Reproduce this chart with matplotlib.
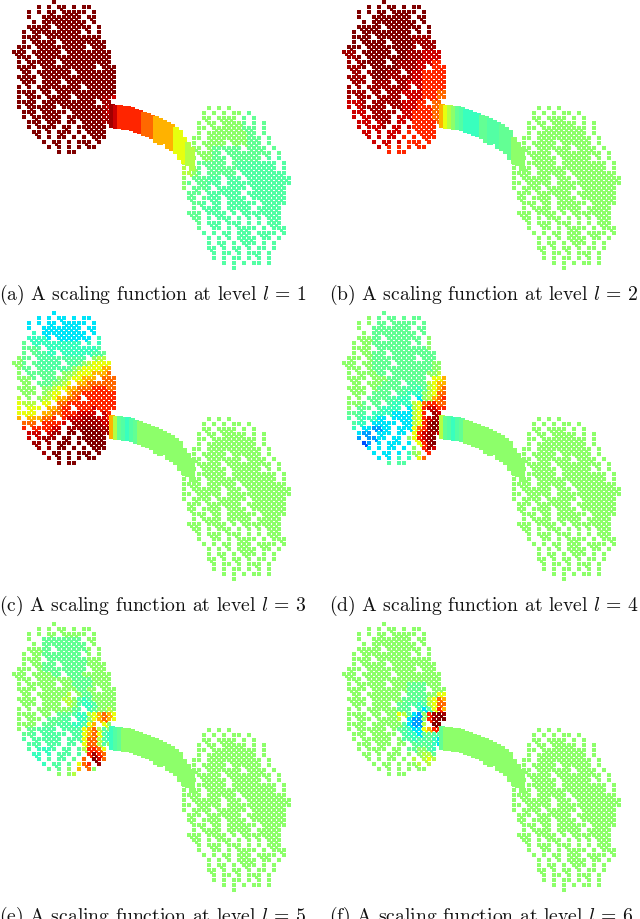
import numpy as np
import matplotlib
matplotlib.use("Agg")
import matplotlib.pyplot as plt

plt.rcParams['mathtext.fontset'] = 'cm'

# Values are sampled from the picture: each character is one colour level.
LEVELS = {'1': .20, '2': .28, '3': .35, '4': .42, 'u': .45, 't': .47, 'n': .52, 'g': .57,
          'y': .63, 'o': .72, 'O': .80, 'r': .87, 'd': .93, 'D': .97, 'x': 1.0}

captions = ["(a) A scaling function at level $l$ = 1", "(b) A scaling function at level $l$ = 2",
            "(c) A scaling function at level $l$ = 3", "(d) A scaling function at level $l$ = 4",
            "(e) A scaling function at level $l$ = 5", "(f) A scaling function at level $l$ = 6"]

left_xs = list(range(14, 124, 5))
left_ys = list(range(2, 157, 5))
right_xs = list(range(184, 294, 5))
right_ys = list(range(108, 273, 5))

left_mask = [
"........#.............", ".....#.#.##.#.##......", "...#.#.##.#####.#.....", "...#..########.##.....",
"....#.#########.#.....", "...#####.#######.#....", "..#.##########.#.#....", "..####.###########....",
"..#.#####.#########...", ".###.##########.###...", "###.######.#########..", ".###.###############..",
".#.######.##########..", ".####.###########.###.", "..##.#######.########.", ".####.###############.",
"..###.####.##########.", ".#.#.#########.######.", ".####.##.############.", ".#.###.#####.########.",
".####.###########.##..", ".#.######.##########..", "..###.#####.########..", "..#.######.#########..",
"...###.###.##.######..", "...#.####.##.######...", "....##.#.###.#.####...", ".....#.#.##.#.#.###...",
"......#.##.#.###.#....", ".......#.#.#.#.##.....", ".........#.##.........",
]

right_mask = [
".....#.#.#............", "....#.#.#.##.#........", "....##.####.#.#.......", "...#.##.#####.#.#.....",
"...##.#########.#.....", "...#.##########.#.....", "..##.###########.#....", "..#.#####.######.#....",
".###.#######.####.#...", ".#.#####.#########.#..", "###.#####.######.#.#..", "##.######.#########.#.",
"#.##.##############.#.", "####.######.#########.", "#.######.###.#########", "##.#####.#############",
"#.####.######.#######.", ".###.#######.########.", ".##.####.####.#######.", "..###.##.######.#####.",
"..#.####.#####.#####..", ".###.####.#.########..", "..##.#.###.#.#.#.###..", "...#.###.###.#.#.###..",
"...#..##.#.####.#.###.", "....#.#.##.###.####.#.", ".....#.#.#.####.##.#..", ".....#.##.#.###.#.#...",
".....##.#.##.#.##.#...", "......#.##.#.###.#....", "......#.#.##.#.#.#....", "........#.#.#.##.#....",
"..........#...........",
]

bridge_x = [112, 116, 120, 124, 128, 132, 136, 140, 144, 148, 152, 156, 160, 164, 168, 172, 176, 180, 184, 188, 192]
bridge_top = [107, 108, 108, 109, 109, 110, 112, 113, 115, 116, 118, 119, 121, 123, 125, 127, 130, 133, 140, 145, 150]
bridge_bot = [126, 127, 127, 128, 128, 129, 131, 133, 134, 136, 138, 141, 143, 143, 146, 150, 153, 157, 162, 165, 168]

bridge_a = "DdrrrrrrOOOoooooyyygg"
bridge_b = "oygntu4444ttuuutttnnn"
bridge_c = "ogtu4utnnnnnnnnnnnnnn"
bridge_d = "gtu4utnnnnnnnnnnnnnnn"
bridge_e = "4utnnnnnnnnnnnnnnnnnn"
bridge_f = "tnnnnnnnnnnnnnnnnnnnn"

X = "xxxxxxxxxxxxxxxxxxxxxx"
N = "nnnnnnnnnnnnnnnnnnnnnn"

left_a = [X]*19 + ["xxxxxxxxxxxxxxxxxxDDdd", "xxxxxxxxxxxxxxxxxxDDdd", "xxxxxxxxxxxxxxxxxxDddd",
                   "xxxxxxxxxxxxxxxxxxDddd", "xxxxxxxxxxxxxxxxxxDDdd", "xxxxxxxxxxxxxxxxxxDDdd"] + [X]*6

left_b = [X]*7 + ["xxxxxxxxxxxxxxDDDDDDDD"]*3 + ["DDDxxxxxxxxxxDDDdddddd"]*2 + ["DDDDxxxxxxxDDDDdddrrrr"]*2 \
    + ["DDDDDDxxxDDDDDddrrrrrr"]*2 + ["DDDDDDDDDDDDDdddrrrrrr"]*2 + ["DDDDDDDDDDDDddddrrrOOO"]*2 \
    + ["ddddDDDDDDDDdddrrrOOoo"]*2 + ["ddddddDDDDDdddrrrrOOoo"]*2 + ["ddddddddDDddddrrrrrOOO"]*2 \
    + ["ddddddddddddrrrrrrrrrr"]*3 + ["ddddddddrrrrrrrrrrrrrr"]*2

left_c = ["3333333333333333333333"]*4 + [
"4444443333333333344444", "4444444333333333444444", "tttt44444444444444tttt", "tttttu44444444444uunnn",
"nttttuu444444444uuttnn", "nntttuuuuuuuuuunngggyy", "nntttuuuuuuuutngyyyyoo", "nnttttuuuuutngyyyyoooo",
"nnntttttttnngyyyoooOOO", "nnnntttttnngyyoooOOOOO", "gnnnntttnngyyooOOOOOOO", "gnnnnnnngyyooOOOrrrOOO",
"ggnnnnngyyooOOrrrrrrrr", "yggnnnggyooOOrrrrrrrrr", "yyggggyyoOOrrrrrrrrrrr", "yyyyyyyooOrrrrrrdrrrrr",
"oyyyyoooOOrrrddddddrrO", "ooooooOOrrrdddDDDddrrO", "OOOOOOrrrrddDDDDDDdddd", "rrrrrrrrddDDDDxxxDDDDD",
"ddddddddDDDxxxxxxxDDDD", "ddddddDDDDxxxxxxxxxDDD"] + ["DDDDDDDDxxxxxxxxxxxxxx"]*5

left_d = ["nnnnnntttttttttttnnnnn"]*8 + ["nnnnnntttttttttttttnnn"]*2 + ["nnnnnnttttttttttttnngg"]*2 + [
"nnnnnnnttttttttttnngyy", "nnnnnnnnnttttttttnyyoo", "gnnnnnnntttttuuttgyooO", "gnnnnnntttttuuu4tgyoOO",
"gnnnnnttttuuu444ngyOOr", "nnnnnttttuu44443ngoOrr", "nnnnttttuu4444gyOrrOOO", "nnntttuu444433gyrddrrr",
"tttuuu44443333gyrdDdrr", "tuuu4443333333gyrdDDrr", "uuu44433333333gyrDxDrr", "u4443322333333yOrDxDrr",
"4443222333333nyrdDDdrr", "4432222333333nyrdDxrrr", "43321223333333gyrDxrOO", "43322333333333nyrDdoyy",
"44333333333344ngOrrOyy", "44443333333444nyOOOOyy", "uuuuuuuuuuuuuunnyyyyyy"]

left_e = [N]*3 + ["nnnnnntttttttttnnnnnnn"]*7 + [
"nnnnnnnnttttttnnnnnnnn", "nnnnnnnnnnnnttttnnnnnn", "nnnnnnnnnnnnttttnnnnnn", "nnnnnnnnnnnnnttnnnnnnn",
"nnnnnnnnnnngnnttnnnnnn", "nnnnnnnnnnggnu4unnnnnn", "nnnnnnnnnnngnu44unnnnn", "nnnnnnnnnnnntu44tnngnn",
"nnnnnnnnntttu44gyoOoyg", "nnnnnnntttuu444nyoOoyg", "nnnnnttttuuu44uyoOynnn", "nntttuuuuuuuuuyoOgunnn",
"ntttuuuuuuuuuuyoOyu4un", "ttuuuuuuuuuuuuyOOgu4un", "tuuuuuuuuuuuuuyOOgunnn", "uuuu4444uuuuuugrrOynnn",
"uu444444uuuuuuyrDrOnnn", "uu44444uuuuutgOrxdOnnn", "uuu4444uuuuttyOrODxOnn", "ttttttttttnnyoOOnnnnnn",
"nnnnnnnnnnnngnnnnnnnnn"]

left_f = [N]*12 + [
"nnnnnnnnnnnnnttttnnnnn", "nnnnnnnnnnnnnttttnnnnn", "nnnnnnnnnnnnnttttnnyyn", "nnnnnnnnnnnntttutgyOoy",
"nnnnnnnnnnnttuu4ugyOOo", "nnnnnnnnnnnttu443uyroy", "nnnnnnnnnnnygu32nrDxDr", "nnnnnnnnnnngu322nrDxxr",
"nnnnnnnnnnnnu322grxxDr", "nnnnnnnnnnntu433yorroy", "nnnnnnnnnnntu443ttuunn", "nnnnnnnnnnnnuu4uut43un",
"nnnnnnnnnnnnnttutu433u", "nnnnnnnnnnnnnttnnu4334", "nnnnnnnnnnnnnntnggtu4n", "nnnnnnnnnnnnnngggygunn",
"nnnnnnnnnnnnnnngggynnn", N, N]

_r1, _r2, _r3, _r4, _r5, _r6, _r7 = ("nnnnnnnnnnnntttttttttt", "ggnnnnnnnnnnnttttttttt", "ygnnnntttttttttttttttt",
                                     "ggnnnnttttttttttuuuuuu", "ggnttttttttuuuuuuuuuuu", "nttttuuuuuuuuuuuuuuuuu",
                                     "ttttuuuuuuuuuuuuuuuuuu")
right_a = [_r1]*5 + [_r2]*3 + [_r3]*2 + [_r4] + [_r5]*3 + [_r6]*5 + [_r7]*14
right_rest = [N]*33

panels = [
    (0, 0, left_a, bridge_a, right_a), (330, 0, left_b, bridge_b, right_rest),
    (0, 311, left_c, bridge_c, right_rest), (330, 311, left_d, bridge_d, right_rest),
    (0, 622, left_e, bridge_e, right_rest), (330, 622, left_f, bridge_f, right_rest),
]

fig = plt.figure(figsize=(6.4, 9.19), dpi=100)
ax = fig.add_axes([0, 0, 1, 1])
ax.set_xlim(0, 640)
ax.set_ylim(919, 0)
ax.axis('off')


def raster_points(xs, ys, mask, codes):
    """One point per marked cell, plus one between cells where the blob is filled."""
    px, py, pv = [], [], []
    rows, cols = len(ys), len(xs)
    for i, y in enumerate(ys):
        row = codes[i].ljust(cols, 'n')
        for j, x in enumerate(xs):
            if mask[i][j] != '#':
                continue
            px.append(x)
            py.append(y)
            pv.append(LEVELS[row[j]])
            if i + 1 < rows and j + 1 < cols and mask[i + 1][j + 1] == '#' and mask[i][j + 1] == '#':
                px.append(x + 2.5)
                py.append(y + 2.5)
                pv.append(LEVELS[row[j]])
    return px, py, pv


for (dx, dy, left, bridge, right), cap in zip(panels, captions):
    lx, ly, lv = raster_points(left_xs, left_ys, left_mask, left)
    rx, ry, rv = raster_points(right_xs, right_ys, right_mask, right)
    bx, by, bv = [], [], []
    for x, t, b, c in zip(bridge_x, bridge_top, bridge_bot, bridge):
        for y in np.arange(t, b + 1, 3):
            bx.append(x)
            by.append(y)
            bv.append(LEVELS[c])
    ax.scatter(np.array(lx + rx) + dx, np.array(ly + ry) + dy, c=lv + rv, cmap='jet', vmin=0, vmax=1,
               s=5.5, marker='s', linewidths=0)
    ax.scatter(np.array(bx) + dx, np.array(by) + dy, c=bv, cmap='jet', vmin=0, vmax=1,
               s=14, marker='s', linewidths=0)
    ax.text(dx - 1, dy + 299.5, cap, family='cmr10', fontsize=14.15, ha='left', va='baseline', color='#111111')

fig.savefig('out.png', dpi=100)
